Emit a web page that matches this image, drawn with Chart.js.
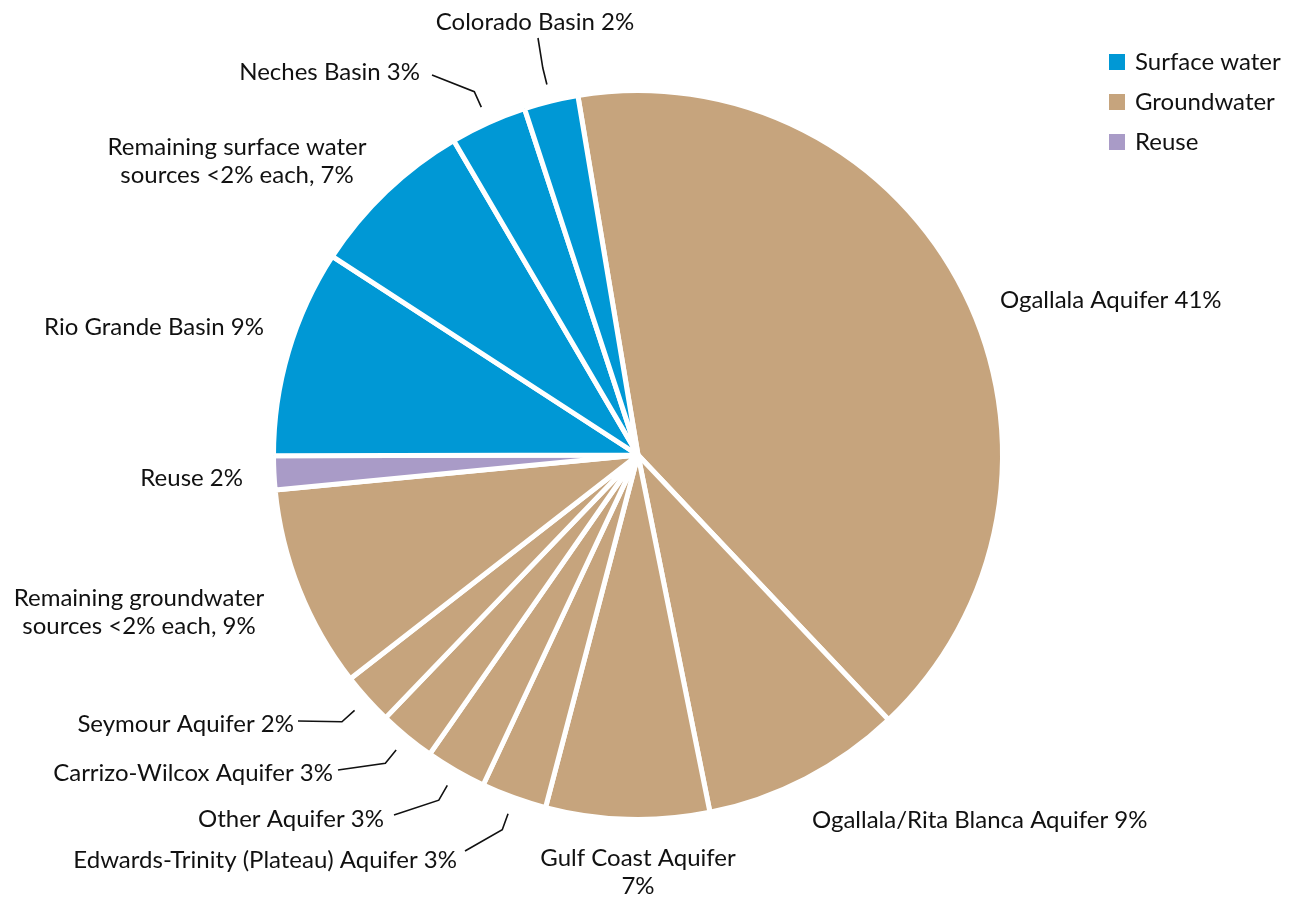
<!DOCTYPE html>
<html>
<head>
<meta charset="utf-8">
<script src="https://cdn.jsdelivr.net/npm/chart.js@4.4.1/dist/chart.umd.min.js"></script>
<style>
  html, body { margin: 0; padding: 0; background: #fff; }
  #wrap { width: 1291px; height: 898px; position: relative; }
</style>
</head>
<body>
<div id="wrap"><canvas id="chart"></canvas></div>
<script>
// data, clockwise from the top
const sources = [
    'Ogallala Aquifer', 'Ogallala/Rita Blanca Aquifer', 'Gulf Coast Aquifer',
    'Edwards-Trinity (Plateau) Aquifer', 'Other Aquifer', 'Carrizo-Wilcox Aquifer',
    'Seymour Aquifer', 'Remaining groundwater sources', 'Reuse', 'Rio Grande Basin',
    'Remaining surface water sources', 'Neches Basin', 'Colorado Basin'
];
const shares = [40.6, 8.9, 7.25, 2.9, 2.7, 2.5, 2.3, 9.0, 1.5, 9.2, 7.4, 3.4, 2.4];
const kinds = ['g', 'g', 'g', 'g', 'g', 'g', 'g', 'g', 'r', 's', 's', 's', 's'];
const labelText = [
    ['Ogallala Aquifer 41%'], ['Ogallala/Rita Blanca Aquifer 9%'], ['Gulf Coast Aquifer', '7%'],
    ['Edwards-Trinity (Plateau) Aquifer 3%'], ['Other Aquifer 3%'], ['Carrizo-Wilcox Aquifer 3%'],
    ['Seymour Aquifer 2%'], ['Remaining groundwater', 'sources <2% each, 9%'], ['Reuse 2%'],
    ['Rio Grande Basin 9%'], ['Remaining surface water', 'sources <2% each, 7%'],
    ['Neches Basin 3%'], ['Colorado Basin 2%']
];
const kindNames = ['Surface water', 'Groundwater', 'Reuse'];
const kindKeys = ['s', 'g', 'r'];

const palette = { s: '#0098d5', g: '#c6a47d', r: '#a99bc7' };
const FONT = '24px Lato, "Open Sans", sans-serif';

// where each label sits; leader = radial tick then a line to the text
const labelLayout = [
    { x: 1000, y: 300, align: 'left' },
    { x: 812, y: 820, align: 'left' },
    { x: 638, y: 858, align: 'center' },
    { x: 457, y: 860, align: 'right', leader: [465, 851] },
    { x: 384, y: 819, align: 'right', leader: [394, 815] },
    { x: 333, y: 773, align: 'right', leader: [338, 770] },
    { x: 294, y: 724, align: 'right', leader: [298, 721] },
    { x: 139, y: 598, align: 'center' },
    { x: 243, y: 478, align: 'right' },
    { x: 264, y: 327, align: 'right' },
    { x: 237, y: 147, align: 'center' },
    { x: 420, y: 72, align: 'right', leader: [432, 75] },
    { x: 535, y: 22, align: 'center', leader: [538, 38] }
];

const labelPlugin = {
    id: 'sliceLabels',
    afterDraw(chart) {
        const c = chart.ctx;
        const meta = chart.getDatasetMeta(0);
        c.save();
        c.font = FONT;
        c.fillStyle = '#111';
        c.textBaseline = 'middle';
        c.strokeStyle = '#111';
        c.lineWidth = 1.6;
        meta.data.forEach((arc, i) => {
            const lay = labelLayout[i];
            const p = arc.getProps(['x', 'y', 'startAngle', 'endAngle', 'outerRadius'], true);
            const mid = (p.startAngle + p.endAngle) / 2;
            if (lay.leader) {
                const r1 = p.outerRadius + 17, r2 = p.outerRadius + 34;
                c.beginPath();
                c.moveTo(p.x + Math.cos(mid) * r1, p.y + Math.sin(mid) * r1);
                c.lineTo(p.x + Math.cos(mid) * r2, p.y + Math.sin(mid) * r2);
                c.lineTo(lay.leader[0], lay.leader[1]);
                c.stroke();
            }
            c.textAlign = lay.align;
            labelText[i].forEach((line, k) => c.fillText(line, lay.x, lay.y + k * 28));
        });

        // legend
        kindKeys.forEach((k, i) => {
            const y = 62 + i * 40;
            c.fillStyle = palette[k];
            c.fillRect(1109, y - 8, 16, 16);
            c.fillStyle = '#111';
            c.textAlign = 'left';
            c.fillText(kindNames[i], 1135, y);
        });
        c.restore();
    }
};

const chart = new Chart(document.getElementById('chart'), {
    type: 'pie',
    data: {
        labels: sources,
        datasets: [{
            data: shares,
            backgroundColor: kinds.map(k => palette[k]),
            borderColor: '#ffffff',
            borderWidth: 5
        }]
    },
    options: {
        responsive: true,
        maintainAspectRatio: false,
        animation: false,
        rotation: -9.5,
        layout: { padding: { left: 271, right: 286, top: 88, bottom: 76 } },
        plugins: {
            legend: { display: false },
            tooltip: { enabled: false }
        }
    },
    plugins: [labelPlugin]
});
</script>
</body>
</html>
